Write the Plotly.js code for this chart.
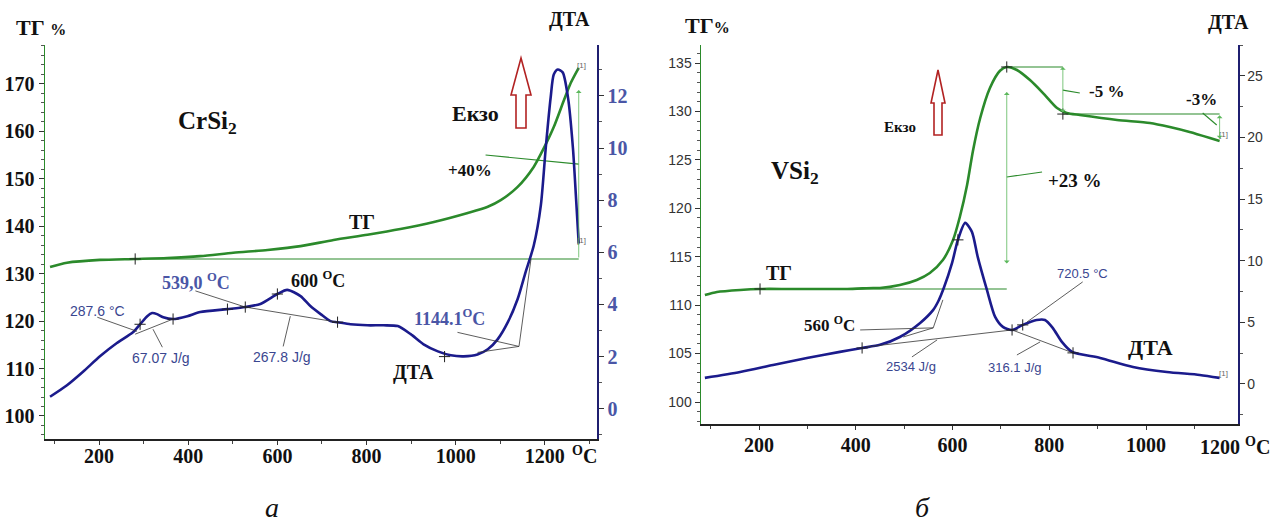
<!DOCTYPE html>
<html>
<head>
<meta charset="utf-8">
<script src="https://cdn.plot.ly/plotly-3.0.1.min.js"></script>
<style>html,body{margin:0;padding:0;background:#fff;}#chart{width:1279px;height:524px;}</style>
</head>
<body>
<div id="chart"></div>
<script>
// ---------- DATA ----------
// Panel а: CrSi2
const tgA_T = [90,128,202,281,353,427,501,578,652,726,802,876,951,1027,1072,1101,1139,1175,1198,1220,1243,1258,1276];
const tgA_V = [131.4,132.3,132.9,133.1,133.3,133.7,134.4,135.0,135.8,137.1,138.2,139.4,140.9,142.8,144.1,145.5,148.3,152.5,156.5,160.9,166.6,170.2,173.4];
const dtaA_T = [90,128,164,202,240,276,292,308,319,330,344,366,398,427,488,528,562,600,622,652,674,697,719,735,764,802,838,870,899,928,960,989,1018,1049,1072,1094,1117,1139,1157,1175,1191,1202,1213,1220,1229,1240,1252,1263,1270,1276];
const dtaA_D = [0.46,0.90,1.42,2.01,2.52,2.93,3.24,3.55,3.67,3.63,3.51,3.44,3.55,3.71,3.82,3.90,4.02,4.40,4.56,4.32,3.94,3.63,3.36,3.32,3.24,3.20,3.20,3.17,2.86,2.47,2.20,2.05,2.01,2.08,2.28,2.66,3.32,4.21,5.25,6.25,7.80,10.0,11.93,12.82,13.01,12.90,11.93,10.0,8.07,6.33];
// analysis guide lines, panel а (DTA scale), segments separated by null
const guideA_T = [281,366,null,196,285,null,321,342,null,528,735,null,416,528,null,629,613,null,1004,1142,null,1049,1142,null,1142,1169];
const guideA_D = [2.86,3.44,null,3.51,2.97,null,3.05,2.36,null,3.90,3.32,null,4.52,3.90,null,3.55,2.39,null,2.93,2.39,null,2.16,2.39,null,2.39,5.75];
// TG guide lines panel а
const tgGuideA_T = [281,1276,null,1067,1276];
const tgGuideA_V = [133.1,133.1,null,155.0,153.1];
const crossA_T = [292,366,488,528,600,735,975];
const crossA_D = [3.24,3.44,3.82,3.90,4.40,3.32,2.0];

// Panel б: VSi2
const tgB_T = [88,113,161,202,264,332,382,436,450,491,526,553,580,601,615,630,642,657,677,698,712,733,760,787,816,836,863,940,1008,1049,1090,1132,1152];
const tgB_V = [111.05,111.36,111.57,111.67,111.67,111.67,111.67,111.77,111.77,112.08,112.60,113.32,114.66,116.73,119.10,122.40,125.90,129.30,132.40,134.20,134.59,134.28,133.24,131.90,130.35,129.84,129.63,129.12,128.81,128.39,127.88,127.26,126.95];
const dtaB_T = [88,161,229,299,367,413,450,491,533,560,571,582,599,611,626,640,652,671,688,704,723,745,774,791,807,826,847,905,973,1043,1111,1152];
const dtaB_D = [0.49,0.97,1.54,2.11,2.60,2.92,3.17,3.81,4.95,6.01,6.75,7.80,9.82,11.69,13.07,12.34,10.31,7.63,5.44,4.63,4.38,4.79,5.19,5.19,4.55,3.41,2.60,2.11,1.38,0.97,0.73,0.49];
const guideB_T = [421,723,null,409,560,null,498,560,null,560,580,null,568,516,null,723,849,null,754,869,null,733,781];
const guideB_D = [3.00,4.38,null,4.38,4.55,null,3.81,4.55,null,4.55,6.82,null,3.57,2.19,null,4.38,2.52,null,5.03,8.28,null,2.35,3.41];
const tgGuideB_T = [202,712,null,712,828,null,828,1152,null,828,863,null,712,785,null,1117,1146];
const tgGuideB_V = [111.67,111.67,null,134.59,134.59,null,129.73,129.73,null,132.2,131.9,null,123.23,123.75,null,129.84,128.6];
const crossB_T = [413,611,723,745,849];
const crossB_D = [2.92,11.69,4.38,4.79,2.52];
const crossTgB_T = [202,712,828];
const crossTgB_V = [111.67,134.59,129.73];

// ---------- STYLE ----------
const W = 1279, H = 524;
const px = x => x / W;
const py = y => 1 - y / H;
const SERIF = '"Liberation Serif", "Times New Roman", serif';
const NARROW = '"Liberation Sans Narrow", "Arial Narrow", "Liberation Sans", sans-serif';
const GREEN = '#2b8a2b';
const GREEN_L = '#5cb85c';
const NAVY = '#1b1b8c';
const BLUE_TXT = '#4a56a6';
const CROSS = {symbol: 'cross-thin-open', size: 8, color: '#222', line: {color: '#222', width: 1}};

const traces = [
  {x: tgA_T, y: tgA_V, xaxis: 'x', yaxis: 'y', mode: 'lines', line: {color: GREEN, width: 2.6, shape: 'spline', smoothing: 0.7}, hoverinfo: 'skip'},
  {x: tgGuideA_T, y: tgGuideA_V, xaxis: 'x', yaxis: 'y', mode: 'lines', line: {color: GREEN, width: 1.1}, connectgaps: false, hoverinfo: 'skip'},
  {x: dtaA_T, y: dtaA_D, xaxis: 'x', yaxis: 'y2', mode: 'lines', line: {color: NAVY, width: 2.6, shape: 'spline', smoothing: 0.7}, hoverinfo: 'skip'},
  {x: guideA_T, y: guideA_D, xaxis: 'x', yaxis: 'y2', mode: 'lines', line: {color: '#333', width: 0.8}, connectgaps: false, hoverinfo: 'skip'},
  {x: crossA_T, y: crossA_D, xaxis: 'x', yaxis: 'y2', mode: 'markers', marker: CROSS, hoverinfo: 'skip'},
  {x: [281], y: [133.1], xaxis: 'x', yaxis: 'y', mode: 'markers', marker: CROSS, hoverinfo: 'skip'},

  {x: tgB_T, y: tgB_V, xaxis: 'x2', yaxis: 'y3', mode: 'lines', line: {color: GREEN, width: 2.6, shape: 'spline', smoothing: 0.7}, hoverinfo: 'skip'},
  {x: tgGuideB_T, y: tgGuideB_V, xaxis: 'x2', yaxis: 'y3', mode: 'lines', line: {color: GREEN, width: 1.1}, connectgaps: false, hoverinfo: 'skip'},
  {x: crossTgB_T, y: crossTgB_V, xaxis: 'x2', yaxis: 'y3', mode: 'markers', marker: CROSS, hoverinfo: 'skip'},
  {x: dtaB_T, y: dtaB_D, xaxis: 'x2', yaxis: 'y4', mode: 'lines', line: {color: NAVY, width: 2.6, shape: 'spline', smoothing: 0.7}, hoverinfo: 'skip'},
  {x: guideB_T, y: guideB_D, xaxis: 'x2', yaxis: 'y4', mode: 'lines', line: {color: '#333', width: 0.8}, connectgaps: false, hoverinfo: 'skip'},
  {x: crossB_T, y: crossB_D, xaxis: 'x2', yaxis: 'y4', mode: 'markers', marker: CROSS, hoverinfo: 'skip'}
];

function axBottom(domain, range, anchor, standoff) {
  return {domain: domain, range: range, anchor: anchor, tick0: 0, dtick: 200,
    ticks: 'outside', ticklen: 4, tickcolor: '#333', showline: true, linecolor: '#222', linewidth: 1.5,
    showgrid: false, zeroline: false, ticklabelstandoff: standoff,
    tickfont: {family: SERIF, size: 20, color: '#111', weight: 'bold'},
    minor: {ticks: 'outside', tick0: 0, dtick: 100, ticklen: 3, tickcolor: '#444', showgrid: false}};
}

const layout = {
  width: W, height: H,
  margin: {l: 0, r: 0, t: 0, b: 0},
  paper_bgcolor: '#fff', plot_bgcolor: 'rgba(0,0,0,0)',
  showlegend: false,
  xaxis: axBottom([px(45), px(597)], [78.7, 1317], 'y', -6),
  yaxis: {domain: [py(439), py(45)], range: [95.15, 178.2], anchor: 'x', side: 'left', tick0: 0, dtick: 10,
    ticks: 'outside', ticklen: 5, tickcolor: '#333', showline: true, linecolor: GREEN, linewidth: 1.5,
    showgrid: false, zeroline: false,
    tickfont: {family: SERIF, size: 20, color: '#111', weight: 'bold'},
    minor: {ticks: 'outside', tick0: 0, dtick: 2, ticklen: 3, tickcolor: '#555', showgrid: false}},
  yaxis2: {overlaying: 'y', anchor: 'x', side: 'right', range: [-1.16, 13.95], tick0: 0, dtick: 2,
    ticks: 'outside', ticklen: 5, tickcolor: '#333', showline: true, linecolor: '#1f1f70', linewidth: 1.5,
    showgrid: false, zeroline: false,
    tickfont: {family: SERIF, size: 20, color: BLUE_TXT, weight: 'bold'},
    minor: {ticks: 'outside', tick0: 0, dtick: 1, ticklen: 3, tickcolor: '#555', showgrid: false}},
  xaxis2: axBottom([px(701), px(1238)], [80, 1190], 'y3', -2),
  yaxis3: {domain: [py(424), py(45)], range: [97.73, 136.86], anchor: 'x2', side: 'left', tick0: 0, dtick: 5,
    ticks: 'outside', ticklen: 5, tickcolor: '#333', showline: true, linecolor: GREEN, linewidth: 1.5,
    showgrid: false, zeroline: false,
    tickfont: {family: NARROW, size: 14, color: '#333'},
    minor: {ticks: 'outside', tick0: 0, dtick: 1, ticklen: 3, tickcolor: '#555', showgrid: false}},
  yaxis4: {overlaying: 'y3', anchor: 'x2', side: 'right', range: [-3.25, 27.5], tick0: 0, dtick: 5,
    ticks: 'outside', ticklen: 5, tickcolor: '#333', showline: true, linecolor: '#1f1f70', linewidth: 1.5,
    showgrid: false, zeroline: false,
    tickfont: {family: NARROW, size: 14, color: '#333'},
    minor: {ticks: 'outside', tick0: 0, dtick: 2.5, ticklen: 3, tickcolor: '#555', showgrid: false}},
  annotations: [],
  shapes: []
};

function txt(text, x, y, size, opts) {
  opts = opts || {};
  layout.annotations.push({
    text: text, xref: 'paper', yref: 'paper', x: px(x), y: py(y),
    xanchor: opts.xanchor || 'center', yanchor: 'middle', showarrow: false,
    font: {family: opts.family || SERIF, size: size, color: opts.color || '#111',
      weight: opts.normal ? 'normal' : 'bold', style: opts.italic ? 'italic' : 'normal'}
  });
}
// Panel а texts
txt('ТГ <span style="font-size:16px">%</span>', 14, 27, 22, {xanchor: 'left'});
txt('ДТА', 569, 20, 20);
txt('CrSi<sub>2</sub>', 207, 122, 25);
txt('Екзо', 475, 113, 22);
txt('+40%', 470, 170, 17);
txt('ТГ', 362, 222, 20);
txt('539,0 <sup>O</sup>C', 196, 281, 18, {color: BLUE_TXT});
txt('600 <sup>O</sup>C', 318, 279, 18);
txt('287.6 °C', 97, 311, 14, {family: NARROW, color: '#3a4690', normal: true});
txt('67.07 J/g', 161, 358, 14, {family: NARROW, color: '#3a4690', normal: true});
txt('267.8 J/g', 282, 357, 14, {family: NARROW, color: '#3a4690', normal: true});
txt('1144.1<sup>O</sup>C', 450, 317, 18, {color: BLUE_TXT});
txt('ДТА', 413, 372, 20);
txt('<sup>O</sup>C', 570, 455, 20, {xanchor: 'left'});
txt('[1]', 581, 66, 8, {family: NARROW, color: '#666', normal: true});
txt('[1]', 581, 240, 8, {family: NARROW, color: '#666', normal: true});
txt('а', 272, 507, 28, {italic: true, normal: true});
// Panel б texts
txt('ТГ<span style="font-size:16px">%</span>', 683, 25, 22, {xanchor: 'left'});
txt('ДТА', 1228, 23, 20);
txt('VSi<sub>2</sub>', 795, 172, 25);
txt('Екзо', 900, 127, 15);
txt('ТГ', 779, 273, 20);
txt('560 <sup>O</sup>C', 830, 324, 17);
txt('2534 J/g', 911, 366, 13, {family: NARROW, color: '#3a4690', normal: true});
txt('720.5 °C', 1082, 273, 13, {family: NARROW, color: '#3a4690', normal: true});
txt('316.1 J/g', 1015, 367, 13, {family: NARROW, color: '#3a4690', normal: true});
txt('ДТА', 1150, 347, 22);
txt('-5 %', 1106, 92, 17);
txt('-3%', 1201, 100, 17);
txt('+23 %', 1075, 180, 19);
txt('1200 <sup>O</sup>C', 1198, 446, 20, {xanchor: 'left'});
txt('[1]', 1223, 134, 8, {family: NARROW, color: '#666', normal: true});
txt('[1]', 1223, 373, 8, {family: NARROW, color: '#666', normal: true});
txt('б', 922, 507, 28, {italic: true, normal: true});

// green measurement arrows
function arrow(xr, yr, x, y0, y1, both) {
  layout.annotations.push({xref: xr, yref: yr, axref: xr, ayref: yr, x: x, y: y1, ax: x, ay: y0,
    text: '', showarrow: true, arrowhead: 1, arrowsize: 1.2, arrowwidth: 0.8, arrowcolor: GREEN_L,
    arrowside: both ? 'end+start' : 'end', standoff: 0, startstandoff: 0});
}
arrow('x', 'y', 1276, 133.1, 168.7, false);
arrow('x2', 'y3', 712, 114.15, 132.0, true);
arrow('x2', 'y3', 828, 129.73, 134.59, true);
arrow('x2', 'y3', 1152, 127.05, 129.6, true);

// red hollow "exo" arrows
function exoArrow(tipX, tipY, baseY, bottomY, headHalf, shaftHalf) {
  const P = (x, y) => px(x) + ',' + py(y);
  const path = 'M' + P(tipX, tipY) + ' L' + P(tipX + headHalf, baseY) + ' L' + P(tipX + shaftHalf, baseY) +
    ' L' + P(tipX + shaftHalf, bottomY) + ' L' + P(tipX - shaftHalf, bottomY) + ' L' + P(tipX - shaftHalf, baseY) +
    ' L' + P(tipX - headHalf, baseY) + ' Z';
  layout.shapes.push({type: 'path', xref: 'paper', yref: 'paper', path: path,
    line: {color: '#b22222', width: 1.6}, fillcolor: '#fff'});
}
exoArrow(521, 58, 95, 128, 10, 5);
exoArrow(938, 70, 103, 135, 7, 4);

Plotly.newPlot('chart', traces, layout, {staticPlot: true, displayModeBar: false});
</script>
</body>
</html>
